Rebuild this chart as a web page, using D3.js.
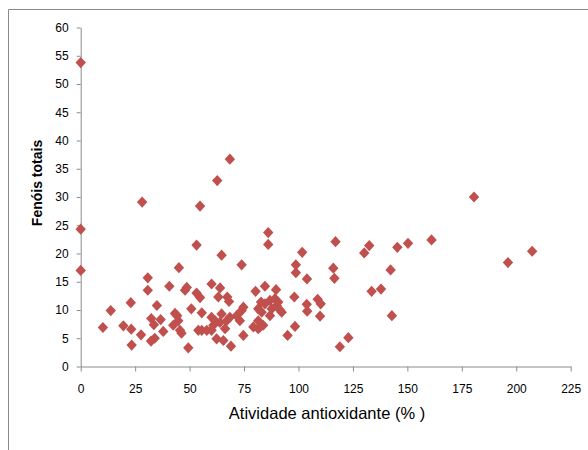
<!DOCTYPE html>
<html><head><meta charset="utf-8">
<script src="https://cdn.jsdelivr.net/npm/d3@7"></script>
<style>body{margin:0;background:#fff}svg{display:block}</style>
</head><body>
<svg id="c" width="588" height="450"></svg>
<script>
const xTicks = [0,25,50,75,100,125,150,175,200,225];
const yTicks = [0,5,10,15,20,25,30,35,40,45,50,55,60];
const xLabel = "Atividade antioxidante (% )";
const yLabel = "Fenóis totais";
const atividade = [0,0,0,10.2,13.8,19.6,23.0,23.2,23.4,27.7,28.2,30.8,30.8,32.4,33.6,32.3,34.0,35.0,36.7,37.9,
 40.7,43.3,44.8,42.5,45.6,45.1,47.9,48.7,49.4,46.3,50.8,53.2,54.8,53.2,54.8,54.0,55.6,55.6,57.9,60.1,
 60.1,60.1,60.9,61.7,62.4,62.7,63.2,64.0,63.9,64.7,64.7,65.5,66.3,67.0,67.3,68.1,68.5,68.5,69.0,71.6,
 73.1,73.9,73.9,74.7,74.7,79.3,80.3,81.5,81.5,81.5,82.8,83.1,83.8,84.6,84.6,86.1,86.1,86.9,86.9,87.7,
 89.2,89.7,90.0,90.7,91.5,92.3,95.0,98.1,98.4,98.8,98.8,101.7,103.8,104.0,103.9,108.8,110.2,109.9,116.0,116.5,
 117.0,119.0,122.9,130.2,132.5,133.6,137.9,142.3,142.9,145.4,150.3,161.1,180.6,196.2,207.3,44.3,82.3];
const fenois = [53.8,24.3,17.0,6.9,9.9,7.2,11.3,6.6,3.8,5.6,29.1,15.7,13.5,8.5,7.4,4.5,5.0,10.8,8.3,6.2,
 14.2,9.4,8.1,7.3,6.4,17.5,13.5,14.0,3.3,5.9,10.2,13.0,12.2,21.5,28.4,6.4,9.5,6.4,6.4,6.4,
 14.6,8.7,7.3,8.1,4.9,32.9,12.3,13.9,7.8,19.7,9.3,4.6,6.7,8.1,12.3,11.5,36.7,8.7,3.6,9.0,
 8.1,9.9,18.0,10.5,5.5,7.0,13.3,10.2,8.1,6.7,11.4,9.6,7.3,14.2,11.1,23.7,21.6,11.7,9.0,10.2,
 12.0,13.6,10.8,11.4,10.0,9.6,5.5,12.3,7.1,18.0,16.6,20.2,11.0,9.8,15.5,11.9,11.1,8.9,17.4,15.6,
 22.1,3.5,5.1,20.1,21.4,13.3,13.7,17.1,9.0,21.1,21.8,22.4,30.0,18.4,20.4,9.0,7.0];

const svg = d3.select("#c");
const x = d3.scaleLinear().domain([0,225]).range([80.7,570.7]);
const y = d3.scaleLinear().domain([0,60]).range([366.5,27.5]);
const font = "'Liberation Sans', Arial, sans-serif";
const axisCol = "#8c8c8c";

// outer frame
svg.append("path").attr("d","M8.5,460V9.5H600").attr("fill","none").attr("stroke","#8a8a8a").attr("stroke-width",1);

const gx = svg.append("g").attr("transform",`translate(0,${y(0)})`)
  .call(d3.axisBottom(x).tickValues(xTicks).tickSize(5).tickPadding(13).tickSizeOuter(0));
const gy = svg.append("g").attr("transform",`translate(${x(0)},0)`)
  .call(d3.axisLeft(y).tickValues(yTicks).tickSize(4).tickPadding(8).tickSizeOuter(0));
[gx,gy].forEach(g=>{
  g.selectAll("path,line").attr("stroke",axisCol);
  g.selectAll("text").attr("font-family",font).attr("font-size",12).attr("fill","#000");
});

svg.append("text").attr("x",327).attr("y",419).attr("text-anchor","middle")
  .attr("font-family",font).attr("font-size",16.5).text(xLabel);
svg.append("text").attr("transform","translate(42,183) rotate(-90)").attr("text-anchor","middle")
  .attr("font-family",font).attr("font-size",14).attr("font-weight","bold").text(yLabel);

const pts = atividade.map((v,i)=>[v,fenois[i]]);
svg.append("g").selectAll("path").data(pts).join("path")
  .attr("d","M0,-5.6L5.2,0L0,5.6L-5.2,0Z")
  .attr("transform",d=>`translate(${x(d[0])},${y(d[1])})`)
  .attr("fill","#c0504d");
</script>
</body></html>
